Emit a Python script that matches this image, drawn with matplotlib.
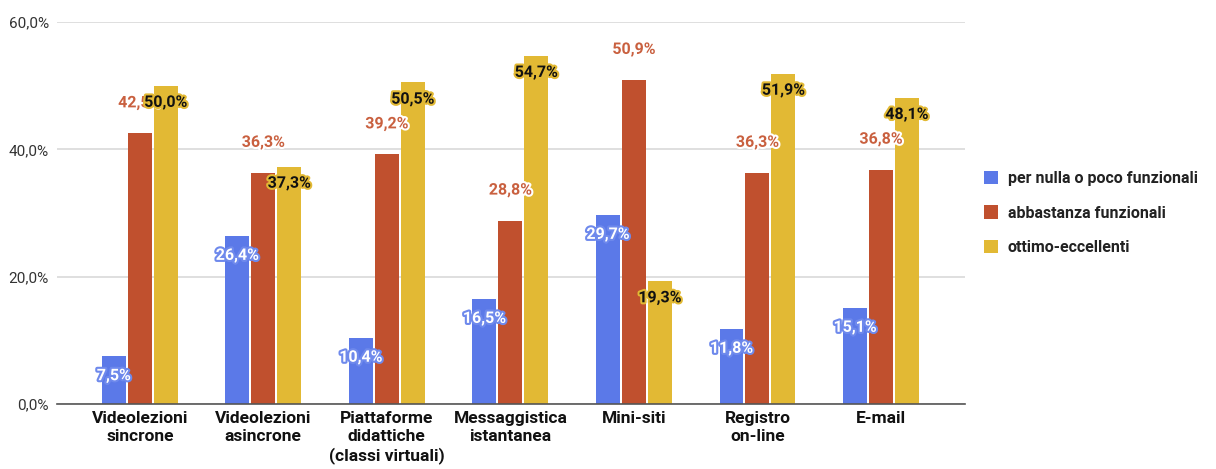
import matplotlib
matplotlib.use("Agg")
import matplotlib.pyplot as plt
import matplotlib.patheffects as pe
import numpy as np

categories = ["Videolezioni\nsincrone", "Videolezioni\nasincrone", "Piattaforme\ndidattiche\n(classi virtuali)",
              "Messaggistica\nistantanea", "Mini-siti", "Registro\non-line", "E-mail"]
series_names = ["per nulla o poco funzionali", "abbastanza funzionali", "ottimo-eccellenti"]
poco = [7.5, 26.4, 10.4, 16.5, 29.7, 11.8, 15.1]
abbastanza = [42.5, 36.3, 39.2, 28.8, 50.9, 36.3, 36.8]
ottimo = [50.0, 37.3, 50.5, 54.7, 19.3, 51.9, 48.1]
yticks = [0, 20, 40, 60]

colors = ["#5b79e8", "#c0502e", "#e2b934"]

plt.rcParams['font.family'] = ['Roboto', 'DejaVu Sans']

fig = plt.figure(figsize=(12.16, 4.69), dpi=100)
ax = fig.add_axes([57/1216, 1-404/469, 908/1216, (404-22)/469])

x = np.arange(len(categories))
w = 0.194
off = 0.21
data = [poco, abbastanza, ottimo]
for i, (vals, c, name) in enumerate(zip(data, colors, series_names)):
    bars = ax.bar(x + (i-1)*off, vals, width=w, color=c, label=name, zorder=3)
    for b, v in zip(bars, vals):
        lab = f"{v:.1f}%".replace(".", ",")
        cx = b.get_x() + b.get_width()/2
        if i == 0:
            ax.annotate(lab, (cx, v), xytext=(0, -14), textcoords="offset points",
                        ha="center", va="center", fontsize=11.5, fontweight="bold", color="white",
                        path_effects=[pe.withStroke(linewidth=3, foreground="#6e89ec")], zorder=5)
        elif i == 1:
            ax.annotate(lab, (cx, v), xytext=(0, 22), textcoords="offset points",
                        ha="center", va="center", fontsize=11.5, fontweight="bold", color="#c9603f",
                        path_effects=[pe.withStroke(linewidth=3, foreground="white")], zorder=4)
        else:
            ax.annotate(lab, (cx, v), xytext=(0, -12), textcoords="offset points",
                        ha="center", va="center", fontsize=11.5, fontweight="bold", color="#111111",
                        path_effects=[pe.withStroke(linewidth=3, foreground="#e2b934")], zorder=6)

ax.set_xlim(-0.67, 6.68)
ax.set_ylim(0, 60)
ax.set_yticks(yticks)
ax.set_yticklabels([f"{t:.1f}%".replace(".", ",") for t in yticks], fontsize=11, color="#333333")
ax.set_xticks(x)
ax.set_xticklabels(categories, fontsize=12.5, fontweight="bold", color="#111111", linespacing=1.25)
ax.tick_params(axis="both", length=0, pad=6)
ax.tick_params(axis="x", pad=5)
ax.grid(axis="y", color="#d9d9d9", linewidth=1.2, zorder=0)
for s in ["top", "right", "left"]:
    ax.spines[s].set_visible(False)
ax.spines["bottom"].set_color("#555555")
ax.spines["bottom"].set_linewidth(1.2)
ax.spines["bottom"].set_zorder(4)

leg = ax.legend(loc="center left", bbox_to_anchor=(1.005, 0.5), frameon=False,
                fontsize=11.5, handlelength=0.9, handleheight=0.9, labelspacing=1.2,
                handletextpad=0.6)
for t in leg.get_texts():
    t.set_fontweight("bold")
    t.set_color("#222222")

fig.savefig("out.png", dpi=100)
